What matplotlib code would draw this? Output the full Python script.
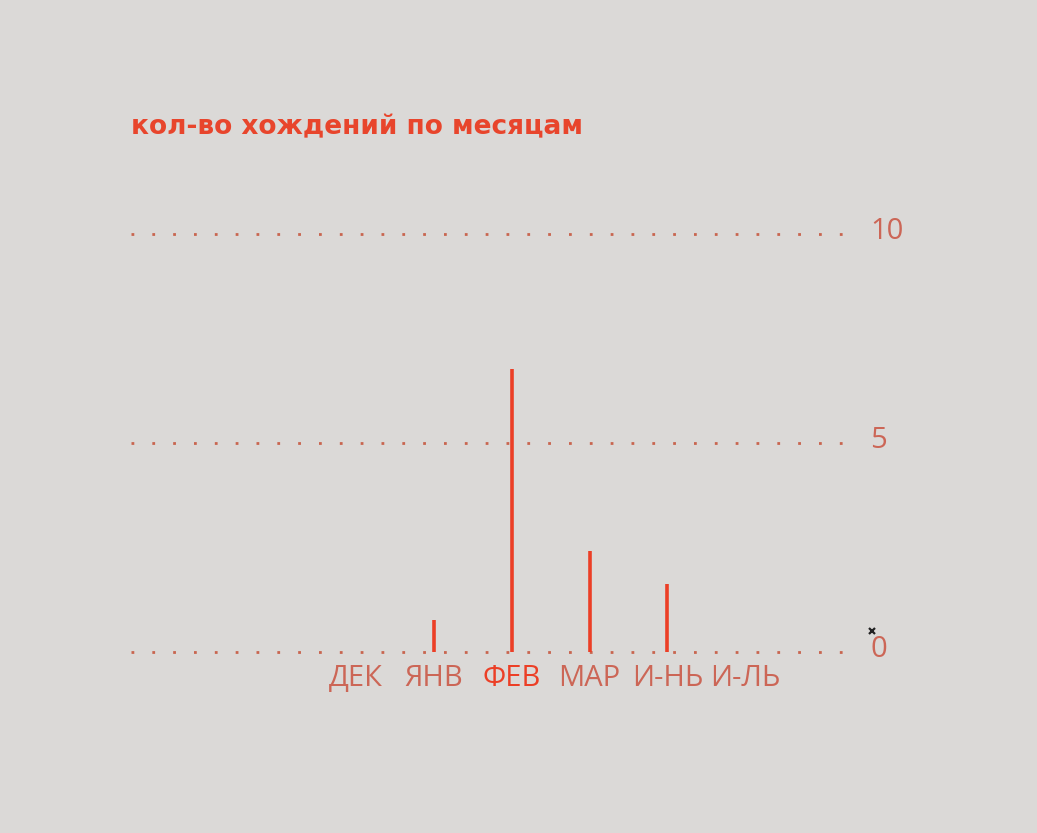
import matplotlib
matplotlib.use("Agg")
import matplotlib.pyplot as plt
import matplotlib.transforms as mtransforms
import numpy as np

# данные: кол-во хождений по месяцам
months = ["ДЕК", "ЯНВ", "ФЕВ", "МАР", "И-НЬ", "И-ЛЬ"]
counts = [0, 0.77, 6.77, 2.42, 1.63, 0]
y_ticks = [0, 5, 10]
highlight = "ФЕВ"

bg = "#dbd9d7"
red = "#ec3f26"
muted = "#cc6656"

W, H = 1037, 833
fig = plt.figure(figsize=(W / 100, H / 100), dpi=100, facecolor=bg)

# оси: линия 0 на y=652, 10 на y=234, точки от x=131 до x=855
ax = fig.add_axes([131 / W, (H - 652) / H, (855 - 131) / W, (652 - 234) / H])
ax.set_facecolor("none")

x = np.arange(len(months))
ax.set_xlim(-2.89, 6.41)
ax.set_ylim(0, 10)

# пунктирная сетка
for v in y_ticks:
    ax.axhline(v, color="#c8654f", lw=2, linestyle=(0, (1, 6.5)),
               dash_capstyle="butt", clip_on=False, zorder=1)

# тонкие столбики
ax.vlines(x, 0, counts, color=red, lw=2.6, zorder=3)

for s in ax.spines.values():
    s.set_visible(False)

ax.set_xticks(x)
ax.set_xticklabels(months, fontsize=21, fontfamily="Open Sans")
for lab in ax.get_xticklabels():
    lab.set_color(red if lab.get_text() == highlight else muted)
ax.tick_params(axis="x", length=0, pad=9)

ax.yaxis.tick_right()
ax.set_yticks(y_ticks)
ax.set_yticklabels([str(v) for v in y_ticks], fontsize=21,
                   fontfamily="Open Sans", color=muted)
ax.tick_params(axis="y", length=0, pad=11)
# подписи чуть выше линий
up = mtransforms.ScaledTranslation(0, 6 / 100, fig.dpi_scale_trans)
for lab in ax.get_yticklabels():
    lab.set_transform(lab.get_transform() + up)

# маленький крестик у нуля
fig.add_artist(plt.Line2D([872 / W], [1 - 631 / H], marker="x", markersize=5,
                          markeredgewidth=1.6, color="#222222",
                          transform=fig.transFigure))

fig.text(131 / W, 1 - 127 / H, "кол-во хождений по месяцам", fontsize=19,
         fontweight="bold", color="#e8452c", ha="left", va="center",
         fontfamily="DejaVu Sans")

fig.savefig("out.png", dpi=100, facecolor=bg)
